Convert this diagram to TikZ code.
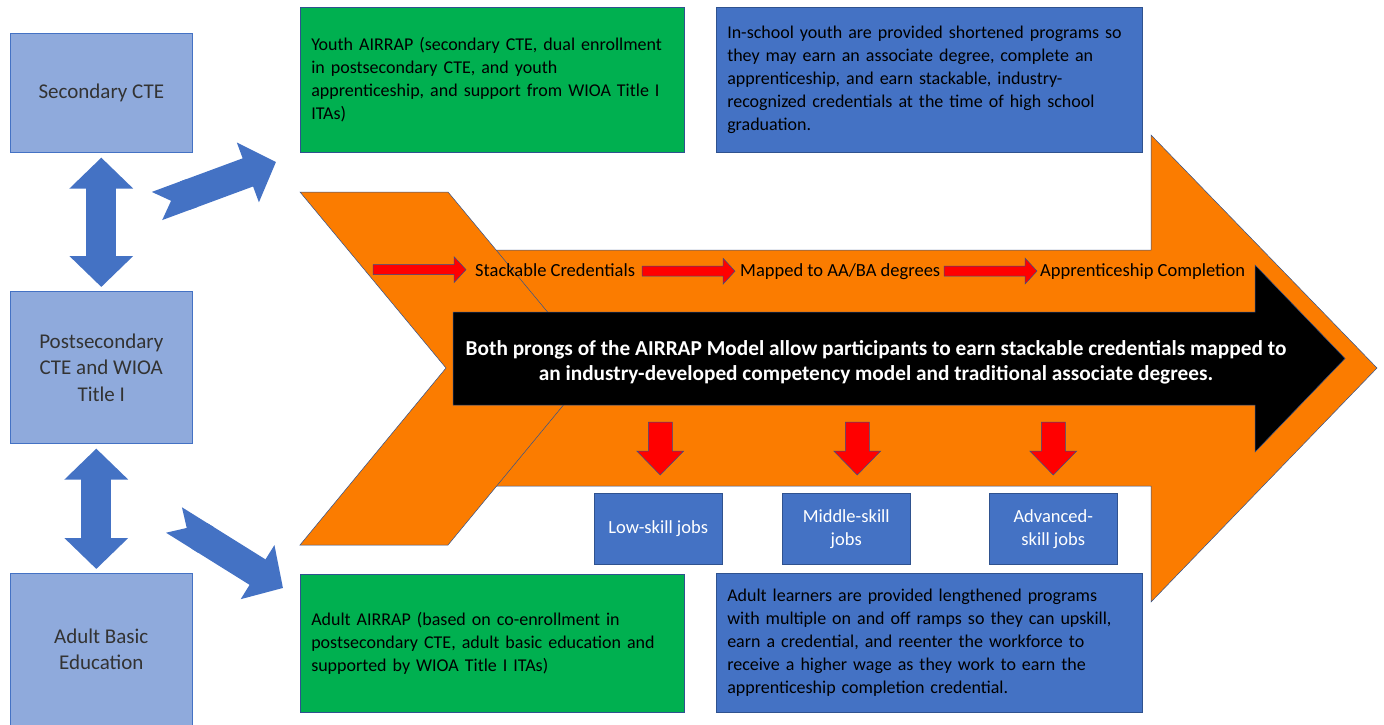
\documentclass[tikz,border=0pt]{standalone}
\usepackage{fontspec}
\setmainfont{Carlito}
\usepackage{tikz}
\usetikzlibrary{arrows.meta,positioning,calc}

\definecolor{paleblue}{HTML}{8FAADC}
\definecolor{midblue}{HTML}{4472C4}
\definecolor{edgeblue}{HTML}{2F528F}
\definecolor{leafgreen}{HTML}{00B050}
\definecolor{bandorange}{HTML}{FB7C00}
\definecolor{signred}{HTML}{FF0000}

\tikzset{
  stage/.style={draw=midblue, line width=0.6pt, fill=paleblue, minimum width=182pt,
    align=center, text=black!80, anchor=north west, font=\fontsize{21}{26.5}\selectfont},
  infobox/.style={draw=edgeblue, line width=0.5pt, align=left, text width=#1,
    inner xsep=11pt, anchor=north west, font=\fontsize{18}{23}\selectfont},
  jobbox/.style={draw=edgeblue, line width=0.5pt, fill=midblue, text=white, align=center,
    minimum width=128pt, minimum height=71pt, anchor=north west, font=\fontsize{18.5}{23}\selectfont},
  band/.style={fill=bandorange, draw=edgeblue, line width=0.5pt},
  redbar/.style={fill=signred, draw=edgeblue, line width=0.5pt},
  steplabel/.style={inner sep=0pt, anchor=base west, font=\fontsize{18.5}{22}\selectfont},
  fatarrow/.style={midblue, line width=30pt, {Triangle Cap[reversed]}-{Triangle[width=62pt,length=30pt]}},
  twoway/.style={midblue, line width=30pt, {Triangle[width=62pt,length=31pt]}-{Triangle[width=62pt,length=31pt]}},
}

\begin{document}
\begin{tikzpicture}[x=1pt,y=-1pt]
  \useasboundingbox (0,0) rectangle (1384,725);

  % left column
  \node[stage, minimum height=119pt] (sec) at (10,33) {Secondary CTE};
  \node[stage, minimum height=152pt] (post) at (10,291) {Postsecondary\\CTE and WIOA\\Title I};
  \node[stage, minimum height=152pt] (abe) at (10,573) {Adult Basic\\Education};
  \draw[twoway, shorten <=5pt, shorten >=4pt] (sec.south) -- (post.north);
  \draw[twoway, shorten <=5pt, shorten >=4pt] ([xshift=-5pt]post.south) -- ([xshift=-5pt]abe.north);

  % text boxes
  \node[infobox=362pt, fill=leafgreen, minimum height=145pt] (youth) at (300,7)
    {Youth AIRRAP (secondary CTE, dual enrollment\\in postsecondary CTE, and youth\\apprenticeship, and support from WIOA Title I\\ITAs)};
  \node[infobox=404pt, fill=midblue, minimum height=145pt] (inschool) at (716,7)
    {In-school youth are provided shortened programs so\\they may earn an associate degree, complete an\\apprenticeship, and earn stackable, industry-\\recognized credentials at the time of high school\\graduation.};
  \node[infobox=362pt, fill=leafgreen, minimum height=138pt] (adult) at (300,574)
    {Adult AIRRAP (based on co-enrollment in\\postsecondary CTE, adult basic education and\\supported by WIOA Title I ITAs)};
  \node[infobox=404pt, fill=midblue, minimum height=139pt] (learners) at (716,573)
    {Adult learners are provided lengthened programs\\with multiple on and off ramps so they can upskill,\\earn a credential, and reenter the workforce to\\receive a higher wage as they work to earn the\\apprenticeship completion credential.};

  \coordinate (ytail) at (157,206);
  \coordinate (ytip) at (276,162);
  \coordinate (atail) at (174,520);
  \coordinate (atip) at (283,588);
  \draw[fatarrow] (ytail) -- (ytip);
  \draw[fatarrow] (atail) -- (atip);

  % big orange arrow with chevron tail
  \draw[band] (490,250) -- (1151,250) -- (1151,135) -- (1377,368) -- (1151,602) -- (1151,486) -- (490,486) -- cycle;
  \draw[band] (300,192) -- (448,192) -- (594,368) -- (448,545) -- (300,545) -- (446,368) -- cycle;
  \draw[fill=black, draw=edgeblue, line width=0.5pt] (453,312) -- (1255,312) -- (1255,265) -- (1345,358.5)
    -- (1255,452) -- (1255,405) -- (453,405) -- cycle;
  \node[text=white, align=center, font=\fontsize{21.3}{25}\selectfont\bfseries] (prongs) at (876,362)
    {Both prongs of the AIRRAP Model allow participants to earn stackable credentials mapped to\\an industry-developed competency model and traditional associate degrees.};

  % steps along the top
  \node[steplabel] (stack) at (475,276) {Stackable Credentials};
  \node[steplabel] (mapped) at (740,276) {Mapped to AA/BA degrees};
  \node[steplabel] (appr) at (1040,276) {Apprenticeship Completion};
  \foreach \l/\d in {stack/9,mapped/5,appr/3}
    \draw[redbar] ($(\l.west)+(-\d,0)$) -- ++(-12,-13) -- ++(0,8) -- ++(-81,0) -- ++(0,10) -- ++(81,0) -- ++(0,8) -- cycle;

  % jobs
  \node[jobbox] (low) at (594,493) {Low-skill jobs};
  \node[jobbox] (mid) at (782,493) {Middle-skill\\jobs};
  \node[jobbox] (adv) at (989,493) {Advanced-\\skill jobs};
  \foreach \j/\dx in {low/2,mid/11,adv/0}
    \draw[redbar] ($(\j.north)+(\dx,-18)$) -- ++(-23.5,-24) -- ++(11.5,0) -- ++(0,-29) -- ++(24,0) -- ++(0,29) -- ++(11.5,0) -- cycle;
\end{tikzpicture}
\end{document}
